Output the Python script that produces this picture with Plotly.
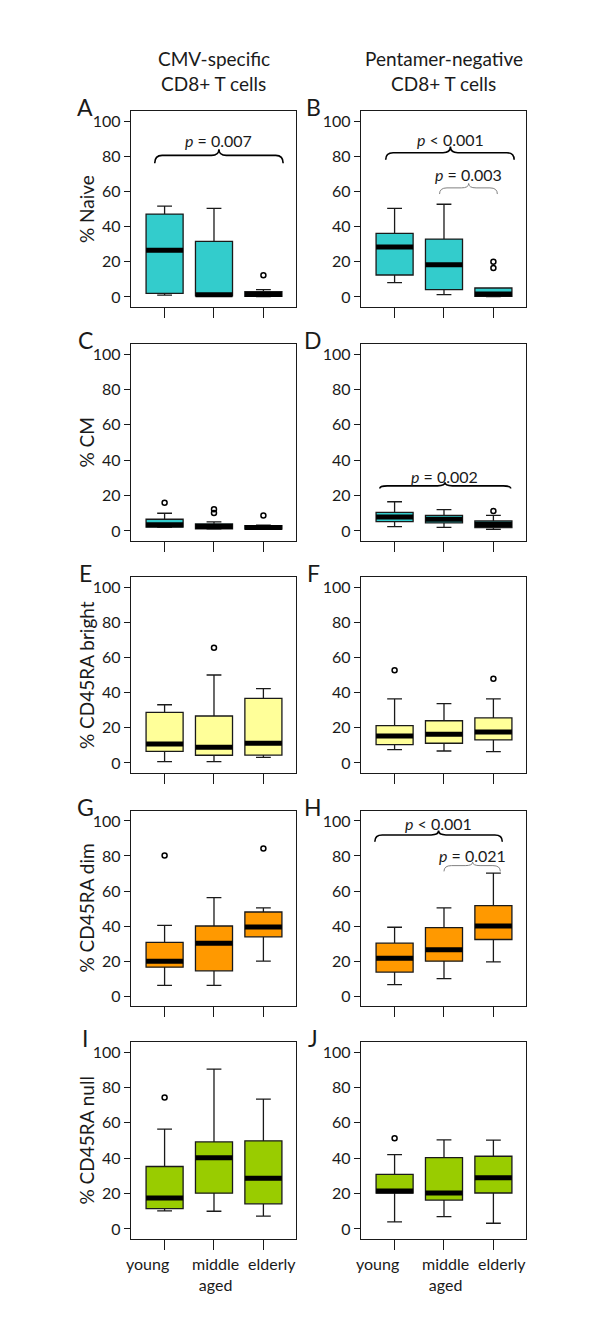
import plotly.graph_objects as go

# ---------------- data ----------------
panels = ["A", "B", "C", "D", "E", "F", "G", "H", "I", "J"]
groups = ["young", "middle<br>aged", "elderly"]
col_titles = [["CMV-specific", "CD8+ T cells"], ["Pentamer-negative", "CD8+ T cells"]]
row_titles = ["% Naive", "% CM", "% CD45RA bright", "% CD45RA dim", "% CD45RA null"]
row_colors = ["#33CCCC", "#33CCCC", "#FFFF99", "#FF9900", "#99CC00"]

lower_whisker = [
    [1.1, 0.3, 0.2], [8.1, 1.3, 0.2],
    [2.0, 1.0, 0.9], [2.4, 2.0, 0.9],
    [0.8, 0.8, 3.2], [7.6, 6.8, 6.4],
    [6.1, 6.1, 19.9], [6.5, 9.9, 19.5],
    [10.2, 10.0, 7.2], [4.0, 7.0, 3.2],
]
q1 = [
    [2.1, 0.6, 0.4], [12.5, 4.2, 0.4],
    [2.1, 1.2, 1.0], [5.3, 4.5, 1.9],
    [6.6, 4.4, 4.5], [10.4, 11.2, 13.1],
    [16.5, 14.4, 33.8], [13.7, 19.9, 32.3],
    [11.5, 20.2, 14.2], [20.3, 16.3, 20.3],
]
median = [
    [26.5, 1.3, 1.4], [28.4, 18.3, 1.7],
    [3.5, 2.5, 2.0], [7.9, 6.6, 3.6],
    [10.8, 8.9, 11.2], [15.3, 16.3, 17.6],
    [19.9, 30.2, 39.5], [21.6, 26.4, 40.0],
    [17.5, 40.2, 28.7], [21.4, 20.3, 29.0],
]
q3 = [
    [47.1, 31.6, 3.0], [36.1, 32.9, 5.1],
    [6.6, 4.0, 3.0], [10.5, 8.8, 5.6],
    [28.8, 26.7, 36.7], [21.2, 24.0, 25.6],
    [30.6, 40.0, 48.0], [30.2, 39.1, 51.6],
    [35.3, 49.2, 49.8], [30.9, 40.3, 41.1],
]
upper_whisker = [
    [51.6, 50.3, 4.2], [50.3, 52.7, 5.1],
    [10.0, 5.1, 3.2], [16.5, 12.0, 8.8],
    [33.1, 50.0, 42.2], [36.4, 33.7, 36.4],
    [40.4, 56.2, 50.3], [39.3, 50.3, 70.2],
    [56.4, 90.4, 73.4], [42.0, 50.4, 50.2],
]

outlier_panel = ["A", "B", "B", "C", "C", "C", "C", "D", "E", "F", "F", "G", "G", "I", "J"]
outlier_group = [2, 2, 2, 0, 1, 1, 2, 2, 1, 0, 2, 0, 2, 0, 0]
outlier_value = [12.3, 16.4, 20.0, 16.0, 10.2, 12.2, 8.7, 11.3, 65.5, 52.7, 47.9, 80.3, 84.3, 74.3, 51.3]

# significance braces
brace_panel = ["A", "B", "B", "D", "H", "H"]
brace_text = ["<i>p</i> = 0.007", "<i>p</i> < 0.001", "<i>p</i> = 0.003",
              "<i>p</i> = 0.002", "<i>p</i> < 0.001", "<i>p</i> = 0.021"]
brace_major = [True, True, False, True, True, False]
brace_x0 = [-0.20, -0.18, 0.91, -0.30, -0.40, 1.00]
brace_x1 = [2.40, 2.42, 2.08, 2.35, 2.18, 2.14]
brace_xc = [1.10, 1.13, 1.50, 1.02, 0.89, 1.58]
brace_yend = [76.0, 78.0, 58.5, 24.0, 88.2, 71.2]
brace_ymid = [80.5, 82.0, 62.0, 25.5, 92.0, 74.5]
brace_ytip = [84.0, 85.5, 64.5, 27.5, 94.5, 76.5]
brace_texty = [89.0, 89.5, 69.5, 30.5, 98.5, 80.5]

# ---------------- layout geometry (pixels) ----------------
W, H = 600, 1328
col_px = [(123, 288), (353, 518)]
row_px = [(103, 299), (336, 533), (569, 765), (803, 998), (1034, 1231)]
label_shift = [-17, 1.5, 9]   # px offsets of category labels from their ticks
FONT = "Lato"
INK = "#1a1a1a"

fig = go.Figure()


def ax_ids(i):
    return ("x" if i == 0 else f"x{i+1}"), ("y" if i == 0 else f"y{i+1}")


layout = {}
annotations = []
shapes = []

for i, p in enumerate(panels):
    r, c = divmod(i, 2)
    xid, yid = ax_ids(i)
    xl, xr = col_px[c]
    yt, yb = row_px[r]
    xkey = "xaxis" if i == 0 else f"xaxis{i+1}"
    ykey = "yaxis" if i == 0 else f"yaxis{i+1}"
    layout[xkey] = dict(
        domain=[xl / W, xr / W], anchor=yid, range=[-0.68, 2.66],
        showline=True, mirror=True, linecolor=INK, linewidth=1.3,
        ticks="outside", ticklen=10, tickwidth=1.3, tickcolor=INK,
        tickvals=[0, 1, 2], ticktext=["", "", ""],
        showgrid=False, zeroline=False,
    )
    layout[ykey] = dict(
        domain=[1 - yb / H, 1 - yt / H], anchor=xid, range=[-5.7, 105.7],
        showline=True, mirror=True, linecolor=INK, linewidth=1.3,
        ticks="outside", ticklen=6, tickwidth=1.3, tickcolor=INK,
        tickvals=[0, 20, 40, 60, 80, 100],
        tickfont=dict(family=FONT, size=16, color=INK),
        showgrid=False, zeroline=False,
    )

    fig.add_trace(go.Box(
        x=[0, 1, 2], q1=q1[i], median=median[i], q3=q3[i],
        lowerfence=lower_whisker[i], upperfence=upper_whisker[i],
        width=0.75, whiskerwidth=0.4, boxpoints=False,
        fillcolor=row_colors[r], line=dict(color=INK, width=1.3),
        xaxis=xid, yaxis=yid, showlegend=False, hoverinfo="skip",
    ))

    # thick median bars
    mx, my = [], []
    for g in range(3):
        mx += [g - 0.375, g + 0.375, None]
        my += [median[i][g], median[i][g], None]
    fig.add_trace(go.Scatter(
        x=mx, y=my, mode="lines", line=dict(color="black", width=5),
        xaxis=xid, yaxis=yid, showlegend=False, hoverinfo="skip",
    ))

    # outliers
    ox = [g for pp, g in zip(outlier_panel, outlier_group) if pp == p]
    oy = [v for pp, v in zip(outlier_panel, outlier_value) if pp == p]
    if ox:
        fig.add_trace(go.Scatter(
            x=ox, y=oy, mode="markers",
            marker=dict(symbol="circle-open", size=5, color="black", line=dict(width=1.5)),
            xaxis=xid, yaxis=yid, showlegend=False, hoverinfo="skip",
        ))

    # category labels under the bottom row
    if r == 4:
        for g, lab in enumerate(groups):
            annotations.append(dict(
                text=lab, xref=xid, yref="paper", x=g, xshift=label_shift[g],
                y=1 - 1244 / H, yanchor="top", xanchor="center",
                showarrow=False, align="center",
                font=dict(family=FONT, size=16, color=INK),
            ))

    # panel letter
    annotations.append(dict(
        text=p, xref="paper", yref="paper",
        x=(77 if c == 0 else 305) / W, y=1 - (yt - 4) / H,
        showarrow=False, xanchor="center", yanchor="middle",
        font=dict(family=FONT, size=23, color=INK),
    ))
    # y title (left column only)
    if c == 0:
        annotations.append(dict(
            text=row_titles[r], xref="paper", yref="paper",
            x=78 / W, y=1 - ((yt + yb) / 2) / H, textangle=-90,
            showarrow=False, xanchor="center", yanchor="middle",
            font=dict(family=FONT, size=19, color=INK),
        ))

# braces
for k, p in enumerate(brace_panel):
    i = panels.index(p)
    xid, yid = ax_ids(i)
    x0, x1, xc = brace_x0[k], brace_x1[k], brace_xc[k]
    ye, ym, yt_ = brace_yend[k], brace_ymid[k], brace_ytip[k]
    rr = 0.15
    path = (f"M{x0},{ye} Q{x0},{ym} {x0+rr},{ym} L{xc-rr},{ym} "
            f"Q{xc},{ym} {xc},{yt_} Q{xc},{ym} {xc+rr},{ym} "
            f"L{x1-rr},{ym} Q{x1},{ym} {x1},{ye}")
    shapes.append(dict(
        type="path", path=path, xref=xid, yref=yid,
        line=dict(color="black" if brace_major[k] else "#808080",
                  width=1.6 if brace_major[k] else 1.0),
    ))
    annotations.append(dict(
        text=brace_text[k], xref=xid, yref=yid, x=xc, y=brace_texty[k],
        showarrow=False, xanchor="center", yanchor="middle",
        font=dict(family=FONT, size=16, color=INK),
    ))

# column headers
for c in range(2):
    xl, xr = col_px[c]
    for li, line in enumerate(col_titles[c]):
        annotations.append(dict(
            text=line, xref="paper", yref="paper",
            x=((xl + xr) / 2) / W, y=1 - (50 + 25 * li) / H,
            showarrow=False, xanchor="center", yanchor="middle",
            font=dict(family=FONT, size=19, color=INK),
        ))

fig.update_layout(
    width=W, height=H, margin=dict(l=0, r=0, t=0, b=0),
    paper_bgcolor="white", plot_bgcolor="white",
    annotations=annotations, shapes=shapes, showlegend=False,
    **layout,
)

fig.write_html("out.html")
